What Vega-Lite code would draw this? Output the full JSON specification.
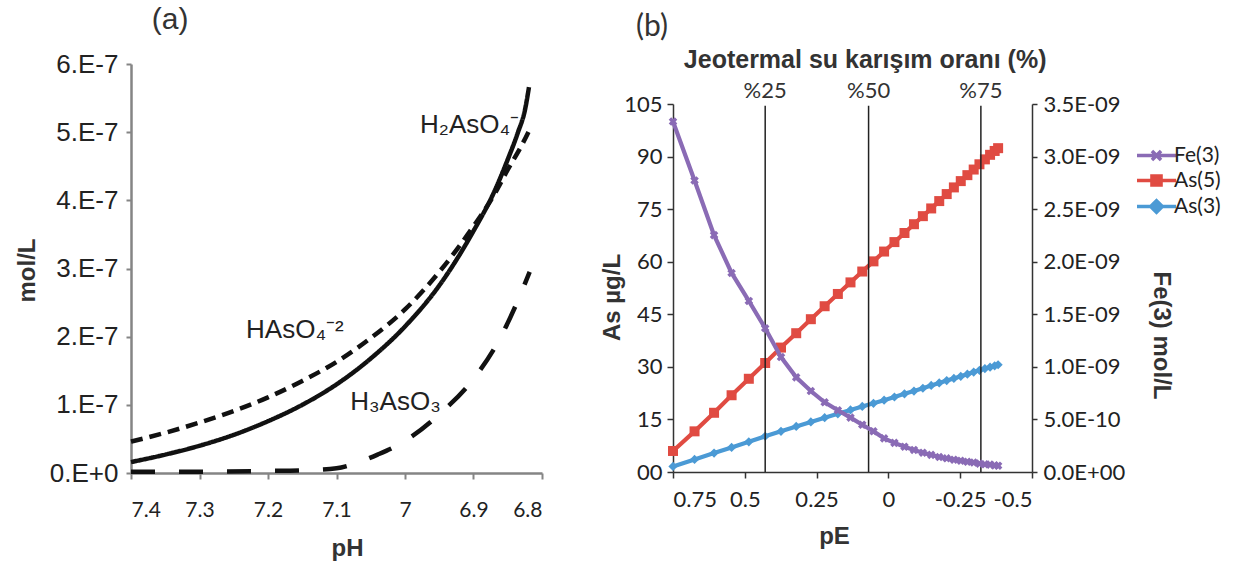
{
  "$schema": "https://vega.github.io/schema/vega-lite/v6.json",
  "width": 1239,
  "height": 561,
  "autosize": {"type": "none"},
  "padding": 0,
  "background": "white",
  "config": {"view": {"stroke": null}, "axis": {"grid": false}},
  "datasets": {
    "ph": [
      {"pH": 7.40, "species": "H2AsO4-", "mol": 1.6e-8},
      {"pH": 7.35, "species": "H2AsO4-", "mol": 2.7e-8},
      {"pH": 7.30, "species": "H2AsO4-", "mol": 4.0e-8},
      {"pH": 7.25, "species": "H2AsO4-", "mol": 5.6e-8},
      {"pH": 7.20, "species": "H2AsO4-", "mol": 7.6e-8},
      {"pH": 7.15, "species": "H2AsO4-", "mol": 1.0e-7},
      {"pH": 7.10, "species": "H2AsO4-", "mol": 1.3e-7},
      {"pH": 7.05, "species": "H2AsO4-", "mol": 1.68e-7},
      {"pH": 7.00, "species": "H2AsO4-", "mol": 2.15e-7},
      {"pH": 6.95, "species": "H2AsO4-", "mol": 2.75e-7},
      {"pH": 6.90, "species": "H2AsO4-", "mol": 3.55e-7},
      {"pH": 6.87, "species": "H2AsO4-", "mol": 4.12e-7},
      {"pH": 6.85, "species": "H2AsO4-", "mol": 4.6e-7},
      {"pH": 6.835, "species": "H2AsO4-", "mol": 5.0e-7},
      {"pH": 6.825, "species": "H2AsO4-", "mol": 5.32e-7},
      {"pH": 6.819, "species": "H2AsO4-", "mol": 5.66e-7},
      {"pH": 7.40, "species": "HAsO4-2", "mol": 4.6e-8},
      {"pH": 7.35, "species": "HAsO4-2", "mol": 5.9e-8},
      {"pH": 7.30, "species": "HAsO4-2", "mol": 7.4e-8},
      {"pH": 7.25, "species": "HAsO4-2", "mol": 9.1e-8},
      {"pH": 7.20, "species": "HAsO4-2", "mol": 1.11e-7},
      {"pH": 7.15, "species": "HAsO4-2", "mol": 1.35e-7},
      {"pH": 7.10, "species": "HAsO4-2", "mol": 1.63e-7},
      {"pH": 7.05, "species": "HAsO4-2", "mol": 1.98e-7},
      {"pH": 7.00, "species": "HAsO4-2", "mol": 2.4e-7},
      {"pH": 6.95, "species": "HAsO4-2", "mol": 2.95e-7},
      {"pH": 6.90, "species": "HAsO4-2", "mol": 3.62e-7},
      {"pH": 6.87, "species": "HAsO4-2", "mol": 4.08e-7},
      {"pH": 6.85, "species": "HAsO4-2", "mol": 4.45e-7},
      {"pH": 6.83, "species": "HAsO4-2", "mol": 4.8e-7},
      {"pH": 6.817, "species": "HAsO4-2", "mol": 5.06e-7},
      {"pH": 7.40, "species": "H3AsO3", "mol": 2e-9},
      {"pH": 7.30, "species": "H3AsO3", "mol": 2e-9},
      {"pH": 7.20, "species": "H3AsO3", "mol": 3e-9},
      {"pH": 7.15, "species": "H3AsO3", "mol": 4e-9},
      {"pH": 7.10, "species": "H3AsO3", "mol": 7e-9},
      {"pH": 7.07, "species": "H3AsO3", "mol": 1.5e-8},
      {"pH": 7.04, "species": "H3AsO3", "mol": 2.7e-8},
      {"pH": 7.00, "species": "H3AsO3", "mol": 4.7e-8},
      {"pH": 6.95, "species": "H3AsO3", "mol": 8.6e-8},
      {"pH": 6.90, "species": "H3AsO3", "mol": 1.38e-7},
      {"pH": 6.86, "species": "H3AsO3", "mol": 2.0e-7},
      {"pH": 6.84, "species": "H3AsO3", "mol": 2.42e-7},
      {"pH": 6.818, "species": "H3AsO3", "mol": 2.95e-7}
    ],
    "pe": [
      {"pE": 0.75, "As5": 6.0, "As3": 1.6, "Fe": 3.333e-9},
      {"pE": 0.675, "As5": 11.6, "As3": 3.6, "Fe": 2.773e-9},
      {"pE": 0.607, "As5": 16.9, "As3": 5.4, "Fe": 2.253e-9},
      {"pE": 0.546, "As5": 21.9, "As3": 7.0, "Fe": 1.893e-9},
      {"pE": 0.486, "As5": 26.6, "As3": 8.6, "Fe": 1.627e-9},
      {"pE": 0.429, "As5": 31.1, "As3": 10.2, "Fe": 1.367e-9},
      {"pE": 0.374, "As5": 35.5, "As3": 11.6, "Fe": 1.093e-9},
      {"pE": 0.321, "As5": 39.6, "As3": 13.0, "Fe": 0.9e-9},
      {"pE": 0.270, "As5": 43.6, "As3": 14.3, "Fe": 0.77e-9},
      {"pE": 0.222, "As5": 47.3, "As3": 15.5, "Fe": 0.663e-9},
      {"pE": 0.176, "As5": 50.8, "As3": 16.6, "Fe": 0.587e-9},
      {"pE": 0.132, "As5": 54.1, "As3": 17.7, "Fe": 0.517e-9},
      {"pE": 0.091, "As5": 57.2, "As3": 18.7, "Fe": 0.45e-9},
      {"pE": 0.052, "As5": 60.1, "As3": 19.6, "Fe": 0.387e-9},
      {"pE": 0.015, "As5": 62.9, "As3": 20.5, "Fe": 0.32e-9},
      {"pE": -0.021, "As5": 65.6, "As3": 21.4, "Fe": 0.277e-9},
      {"pE": -0.056, "As5": 68.2, "As3": 22.3, "Fe": 0.24e-9},
      {"pE": -0.089, "As5": 70.7, "As3": 23.1, "Fe": 0.21e-9},
      {"pE": -0.120, "As5": 73.0, "As3": 23.9, "Fe": 0.183e-9},
      {"pE": -0.149, "As5": 75.2, "As3": 24.7, "Fe": 0.163e-9},
      {"pE": -0.177, "As5": 77.3, "As3": 25.4, "Fe": 0.143e-9},
      {"pE": -0.203, "As5": 79.3, "As3": 26.1, "Fe": 0.13e-9},
      {"pE": -0.228, "As5": 81.2, "As3": 26.7, "Fe": 0.117e-9},
      {"pE": -0.252, "As5": 83.0, "As3": 27.3, "Fe": 0.107e-9},
      {"pE": -0.275, "As5": 84.7, "As3": 27.9, "Fe": 0.097e-9},
      {"pE": -0.297, "As5": 86.3, "As3": 28.5, "Fe": 0.09e-9},
      {"pE": -0.317, "As5": 87.8, "As3": 29.0, "Fe": 0.08e-9},
      {"pE": -0.336, "As5": 89.2, "As3": 29.5, "Fe": 0.073e-9},
      {"pE": -0.354, "As5": 90.5, "As3": 29.9, "Fe": 0.07e-9},
      {"pE": -0.370, "As5": 91.6, "As3": 30.3, "Fe": 0.063e-9},
      {"pE": -0.382, "As5": 92.4, "As3": 30.6, "Fe": 0.06e-9}
    ],
    "mix": [
      {"pE": 0.429, "label": "%25"},
      {"pE": 0.069, "label": "%50"},
      {"pE": -0.322, "label": "%75"}
    ],
    "phlabels": [
      {"pH": 6.978, "mol": 5.1e-7, "label": "H₂AsO₄⁻"},
      {"pH": 7.232, "mol": 2.1e-7, "label": "HAsO₄⁻²"},
      {"pH": 7.08, "mol": 1.04e-7, "label": "H₃AsO₃"}
    ]
  },
  "layer": [
    {
      "layer": [
        {
          "data": {"name": "ph"},
          "mark": {"type": "line", "color": "#111111", "strokeWidth": 4.5, "interpolate": "monotone"},
          "encoding": {
            "x": {
              "field": "pH", "type": "quantitative",
              "scale": {"domain": [6.8, 7.4], "range": [542, 131], "nice": false, "zero": false},
              "axis": {
                "orient": "bottom", "offset": -88,
                "values": [7.4, 7.3, 7.2, 7.1, 7.0, 6.9, 6.8],
                "labelExpr": "format(datum.value, '.1~f')",
                "domainColor": "#858585", "domainWidth": 2.5,
                "tickColor": "#858585", "tickWidth": 2, "tickSize": 6,
                "labelFont": "Lato", "labelFontSize": 21, "labelColor": "#222222", "labelPadding": 20,
                "title": "pH", "titleFont": "Liberation Sans", "titleFontSize": 24, "titleFontWeight": "bold",
                "titleColor": "#333333", "titleX": 347, "titleY": 75, "titleBaseline": "middle", "titleAlign": "center"
              }
            },
            "y": {
              "field": "mol", "type": "quantitative",
              "scale": {"domain": [0, 6e-7], "range": [473, 64], "nice": false},
              "axis": {
                "orient": "left", "offset": -131,
                "values": [0, 1e-7, 2e-7, 3e-7, 4e-7, 5e-7, 6e-7],
                "labelExpr": "datum.value == 0 ? '0.E+0' : format(round(datum.value * 1e7), 'd') + '.E-7'",
                "domainColor": "#858585", "domainWidth": 2.5,
                "tickColor": "#858585", "tickWidth": 2, "tickSize": 5,
                "labelFont": "Liberation Sans", "labelFontSize": 26, "labelColor": "#222222", "labelPadding": 8,
                "title": "mol/L", "titleFont": "Liberation Sans", "titleFontSize": 24, "titleFontWeight": "bold",
                "titleColor": "#333333", "titleX": -104, "titleY": 270, "titleAngle": -90,
                "titleBaseline": "middle", "titleAlign": "center"
              }
            },
            "strokeDash": {
              "field": "species", "type": "nominal",
              "scale": {"domain": ["H2AsO4-", "HAsO4-2", "H3AsO3"], "range": [[1, 0], [12, 7], [24, 24]]},
              "legend": null
            }
          }
        },
        {
          "data": {"name": "phlabels"},
          "mark": {"type": "text", "align": "left", "baseline": "middle", "font": "Liberation Sans", "fontSize": 26, "color": "#222222"},
          "encoding": {
            "x": {"field": "pH", "type": "quantitative"},
            "y": {"field": "mol", "type": "quantitative"},
            "text": {"field": "label"}
          }
        },
        {
          "data": {"values": [{"pH": 7.343, "mol": 6.64e-7, "label": "(a)"}]},
          "mark": {"type": "text", "align": "center", "baseline": "middle", "font": "Liberation Sans", "fontSize": 30, "color": "#333333"},
          "encoding": {
            "x": {"field": "pH", "type": "quantitative"},
            "y": {"field": "mol", "type": "quantitative"},
            "text": {"field": "label"}
          }
        }
      ]
    },
    {
      "layer": [
        {
          "layer": [
            {
              "data": {"name": "pe"},
              "mark": {"type": "line", "strokeWidth": 4.2, "point": {"shape": "square", "size": 100, "filled": true}},
              "encoding": {
                "x": {
                  "field": "pE", "type": "quantitative",
                  "scale": {"domain": [-0.5, 0.75], "range": [1032, 673], "nice": false, "zero": false},
                  "axis": {
                    "orient": "bottom", "offset": -89,
                    "values": [0.75, 0.5, 0.25, 0, -0.25, -0.5],
                    "labelExpr": "replace(format(datum.value, '.2~f'), '−', '-')",
                    "domainColor": "#333333", "domainWidth": 1.5,
                    "tickColor": "#333333", "tickWidth": 1.5, "tickSize": 6,
                    "labelFont": "Lato", "labelFontSize": 22, "labelColor": "#222222", "labelPadding": 11,
                    "title": "pE", "titleFont": "Liberation Sans", "titleFontSize": 24, "titleFontWeight": "bold",
                    "titleColor": "#333333", "titleX": 834, "titleY": 64, "titleBaseline": "middle", "titleAlign": "center"
                  }
                },
                "y": {
                  "field": "As5", "type": "quantitative",
                  "scale": {"domain": [0, 105], "range": [472, 104], "nice": false},
                  "axis": {
                    "orient": "left", "offset": -673,
                    "values": [0, 15, 30, 45, 60, 75, 90, 105],
                    "labelExpr": "datum.value == 0 ? '00' : format(datum.value, 'd')",
                    "domainColor": "#333333", "domainWidth": 1.5,
                    "tickColor": "#333333", "tickWidth": 1.5, "tickSize": 6,
                    "labelFont": "Lato", "labelFontSize": 22, "labelColor": "#222222", "labelPadding": 5,
                    "title": "As µg/L", "titleFont": "Liberation Sans", "titleFontSize": 24, "titleFontWeight": "bold",
                    "titleColor": "#333333", "titleX": -61, "titleY": 297, "titleAngle": -90,
                    "titleBaseline": "middle", "titleAlign": "center"
                  }
                },
                "color": {
                  "datum": "As(5)",
                  "scale": {"domain": ["Fe(3)", "As(5)", "As(3)"], "range": ["#8A6BB5", "#E04B42", "#4B9AD5"]},
                  "legend": {
                    "orient": "none", "legendX": 1146, "legendY": 145, "title": null,
                    "symbolSize": 169, "labelFont": "Lato", "labelFontSize": 21, "labelColor": "#222222",
                    "labelOffset": 7, "rowPadding": 0, "symbolStrokeWidth": 3.5,
                    "encode": {
                      "symbols": {
                        "update": {
                          "shape": {"signal": "datum.value === 'Fe(3)' ? 'M-3,0H3M-0.7,-0.7L0.7,0.7M-0.7,0.7L0.7,-0.7' : datum.value === 'As(5)' ? 'M-3,0H3M-0.7,-0.7H0.7V0.7H-0.7Z' : 'M-3,0H3M0,-0.9L0.9,0L0,0.9L-0.9,0Z'"},
                          "fill": {"scale": "color", "field": "value"},
                          "stroke": {"scale": "color", "field": "value"},
                          "strokeWidth": {"value": 3.5},
                          "opacity": {"value": 1}
                        }
                      }
                    }
                  }
                }
              }
            },
            {
              "data": {"name": "pe"},
              "mark": {"type": "line", "strokeWidth": 4.2, "point": {"shape": "diamond", "size": 85, "filled": true}},
              "encoding": {
                "x": {"field": "pE", "type": "quantitative"},
                "y": {"field": "As3", "type": "quantitative"},
                "color": {"datum": "As(3)"}
              }
            },
            {
              "data": {"name": "mix"},
              "mark": {"type": "rule", "color": "#222222", "strokeWidth": 1.5},
              "encoding": {
                "x": {"field": "pE", "type": "quantitative"},
                "y": {"datum": 0, "type": "quantitative"},
                "y2": {"datum": 104.5}
              }
            },
            {
              "data": {"name": "mix"},
              "mark": {"type": "text", "align": "center", "baseline": "middle", "font": "Lato", "fontSize": 22, "color": "#333333"},
              "encoding": {
                "x": {"field": "pE", "type": "quantitative"},
                "y": {"datum": 108.7, "type": "quantitative"},
                "text": {"field": "label"}
              }
            },
            {
              "data": {"values": [{"pE": 0.081, "As5": 117.6, "label": "Jeotermal su karışım oranı (%)"}]},
              "mark": {"type": "text", "align": "center", "baseline": "middle", "font": "Liberation Sans", "fontWeight": "bold", "fontSize": 25, "color": "#333333"},
              "encoding": {
                "x": {"field": "pE", "type": "quantitative"},
                "y": {"field": "As5", "type": "quantitative"},
                "text": {"field": "label"}
              }
            },
            {
              "data": {"values": [{"pE": 0.823, "As5": 126.9, "label": "(b)"}]},
              "mark": {"type": "text", "align": "center", "baseline": "middle", "font": "Lato", "fontSize": 30, "color": "#333333"},
              "encoding": {
                "x": {"field": "pE", "type": "quantitative"},
                "y": {"field": "As5", "type": "quantitative"},
                "text": {"field": "label"}
              }
            }
          ]
        },
        {
          "data": {"name": "pe"},
          "mark": {"type": "line", "strokeWidth": 4.2, "point": {"shape": "cross", "angle": 45, "size": 75, "filled": true}},
          "encoding": {
            "x": {"field": "pE", "type": "quantitative"},
            "y": {
              "field": "Fe", "type": "quantitative",
              "scale": {"domain": [0, 3.5e-9], "range": [472, 104], "nice": false},
              "axis": {
                "orient": "right", "offset": -207,
                "values": [0, 5e-10, 1e-9, 1.5e-9, 2e-9, 2.5e-9, 3e-9, 3.5e-9],
                "labelExpr": "['0.0E+00','5.0E-10','1.0E-09','1.5E-09','2.0E-09','2.5E-09','3.0E-09','3.5E-09'][round(datum.value / 5e-10)]",
                "domainColor": "#333333", "domainWidth": 1.5,
                "tickColor": "#333333", "tickWidth": 1.5, "tickSize": 5,
                "labelFont": "Lato", "labelFontSize": 22, "labelColor": "#222222", "labelPadding": 6,
                "title": "Fe(3) mol/L", "titleFont": "Liberation Sans", "titleFontSize": 24, "titleFontWeight": "bold",
                "titleColor": "#333333", "titleX": 128, "titleY": 335, "titleAngle": 90,
                "titleBaseline": "middle", "titleAlign": "center"
              }
            },
            "color": {"datum": "Fe(3)"}
          }
        }
      ],
      "resolve": {"scale": {"y": "independent"}, "axis": {"y": "independent"}}
    }
  ],
  "resolve": {
    "scale": {"x": "independent", "y": "independent"},
    "axis": {"x": "independent", "y": "independent"}
  }
}
